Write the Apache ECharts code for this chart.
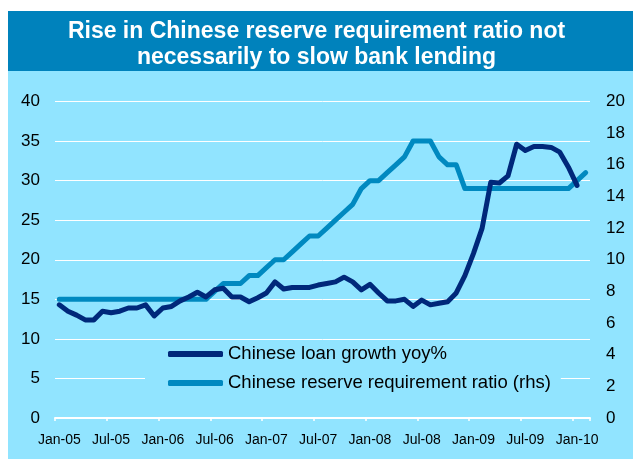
<!DOCTYPE html>
<html>
<head>
<meta charset="utf-8">
<script src="https://cdn.jsdelivr.net/npm/echarts@6/dist/echarts.min.js"></script>
<style>
html,body{margin:0;padding:0;background:#fff;}
#c{width:633px;height:459px;}
</style>
</head>
<body>
<div id="c"></div>
<script>
var months = ['Jan-05','Feb-05','Mar-05','Apr-05','May-05','Jun-05','Jul-05','Aug-05','Sep-05','Oct-05','Nov-05','Dec-05',
'Jan-06','Feb-06','Mar-06','Apr-06','May-06','Jun-06','Jul-06','Aug-06','Sep-06','Oct-06','Nov-06','Dec-06',
'Jan-07','Feb-07','Mar-07','Apr-07','May-07','Jun-07','Jul-07','Aug-07','Sep-07','Oct-07','Nov-07','Dec-07',
'Jan-08','Feb-08','Mar-08','Apr-08','May-08','Jun-08','Jul-08','Aug-08','Sep-08','Oct-08','Nov-08','Dec-08',
'Jan-09','Feb-09','Mar-09','Apr-09','May-09','Jun-09','Jul-09','Aug-09','Sep-09','Oct-09','Nov-09','Dec-09',
'Jan-10','Feb-10'];

var loanGrowth = [14.3,13.5,13.0,12.4,12.4,13.5,13.3,13.5,13.9,13.9,14.3,12.9,
13.9,14.1,14.8,15.3,15.9,15.3,16.2,16.4,15.3,15.3,14.7,15.2,
15.8,17.2,16.3,16.5,16.5,16.5,16.8,17.0,17.2,17.8,17.2,16.2,
16.9,15.8,14.8,14.8,15.0,14.1,14.9,14.3,14.5,14.7,15.8,18.0,
20.8,24.0,29.8,29.7,30.6,34.6,33.8,34.3,34.3,34.2,33.6,31.7,
29.4,null];

var rrr = [7.5,7.5,7.5,7.5,7.5,7.5,7.5,7.5,7.5,7.5,7.5,7.5,
7.5,7.5,7.5,7.5,7.5,7.5,8.0,8.5,8.5,8.5,9.0,9.0,
9.5,10.0,10.0,10.5,11.0,11.5,11.5,12.0,12.5,13.0,13.5,14.5,
15.0,15.0,15.5,16.0,16.5,17.5,17.5,17.5,16.5,16.0,16.0,14.5,
14.5,14.5,14.5,14.5,14.5,14.5,14.5,14.5,14.5,14.5,14.5,14.5,
15.0,15.5];

var leftTicks = {min:0, max:40, interval:5};
var rightTicks = {min:0, max:20, interval:2};

var FONT = 'Liberation Sans, Arial, sans-serif';
var chart = echarts.init(document.getElementById('c'), null, {renderer:'canvas'});
chart.setOption({
  backgroundColor:'#ffffff',
  animation:false,
  graphic:[
    {type:'rect', z:-10, shape:{x:8,y:71,width:625,height:388}, style:{fill:'#91E4FF'}},
    {type:'rect', z:-10, shape:{x:8,y:11,width:625,height:60}, style:{fill:'#0082BC'}}
  ],
  title:{
    text:'Rise in Chinese reserve requirement ratio not\nnecessarily to slow bank lending',
    left:'center', top:14,
    textStyle:{color:'#ffffff', fontSize:23, fontWeight:'bold', fontFamily:FONT, lineHeight:26}
  },
  legend:{
    orient:'vertical', left:145, top:341,
    backgroundColor:'#91E4FF',
    padding:[3,10,6,23],
    itemWidth:55, itemHeight:6, itemGap:9,
    icon:'roundRect',
    textStyle:{color:'#000', fontSize:18.5, fontFamily:FONT, lineHeight:20},
    data:['Chinese loan growth yoy%','Chinese reserve requirement ratio (rhs)']
  },
  grid:{left:55, right:43, top:101.5, bottom:41, containLabel:false},
  xAxis:{
    type:'category', data:months, boundaryGap:true,
    axisLine:{show:true, lineStyle:{color:'#ffffff', width:2}},
    axisTick:{show:true, interval:5, length:3, lineStyle:{color:'#ffffff', width:1.5}},
    axisLabel:{interval:5, color:'#000', fontSize:14, fontFamily:FONT, margin:15},
    splitLine:{show:false}
  },
  yAxis:[
    {type:'value', min:leftTicks.min, max:leftTicks.max, interval:leftTicks.interval,
     axisLine:{show:false}, axisTick:{show:false},
     axisLabel:{color:'#000', fontSize:17, fontFamily:FONT, margin:15},
     splitLine:{show:true, lineStyle:{color:'#ffffff', width:1}}},
    {type:'value', min:rightTicks.min, max:rightTicks.max, interval:rightTicks.interval, position:'right',
     axisLine:{show:false}, axisTick:{show:false},
     axisLabel:{color:'#000', fontSize:17, fontFamily:FONT, margin:16},
     splitLine:{show:false}}
  ],
  series:[
    {name:'Chinese loan growth yoy%', type:'line', yAxisIndex:0, data:loanGrowth, z:3,
     symbol:'none', color:'#00287A',
     lineStyle:{width:5, color:'#00287A', cap:'round', join:'round'}},
    {name:'Chinese reserve requirement ratio (rhs)', type:'line', yAxisIndex:1, data:rrr, z:2,
     symbol:'none', color:'#0089C0',
     lineStyle:{width:5, color:'#0089C0', cap:'round', join:'round'}}
  ]
});
</script>
</body>
</html>
